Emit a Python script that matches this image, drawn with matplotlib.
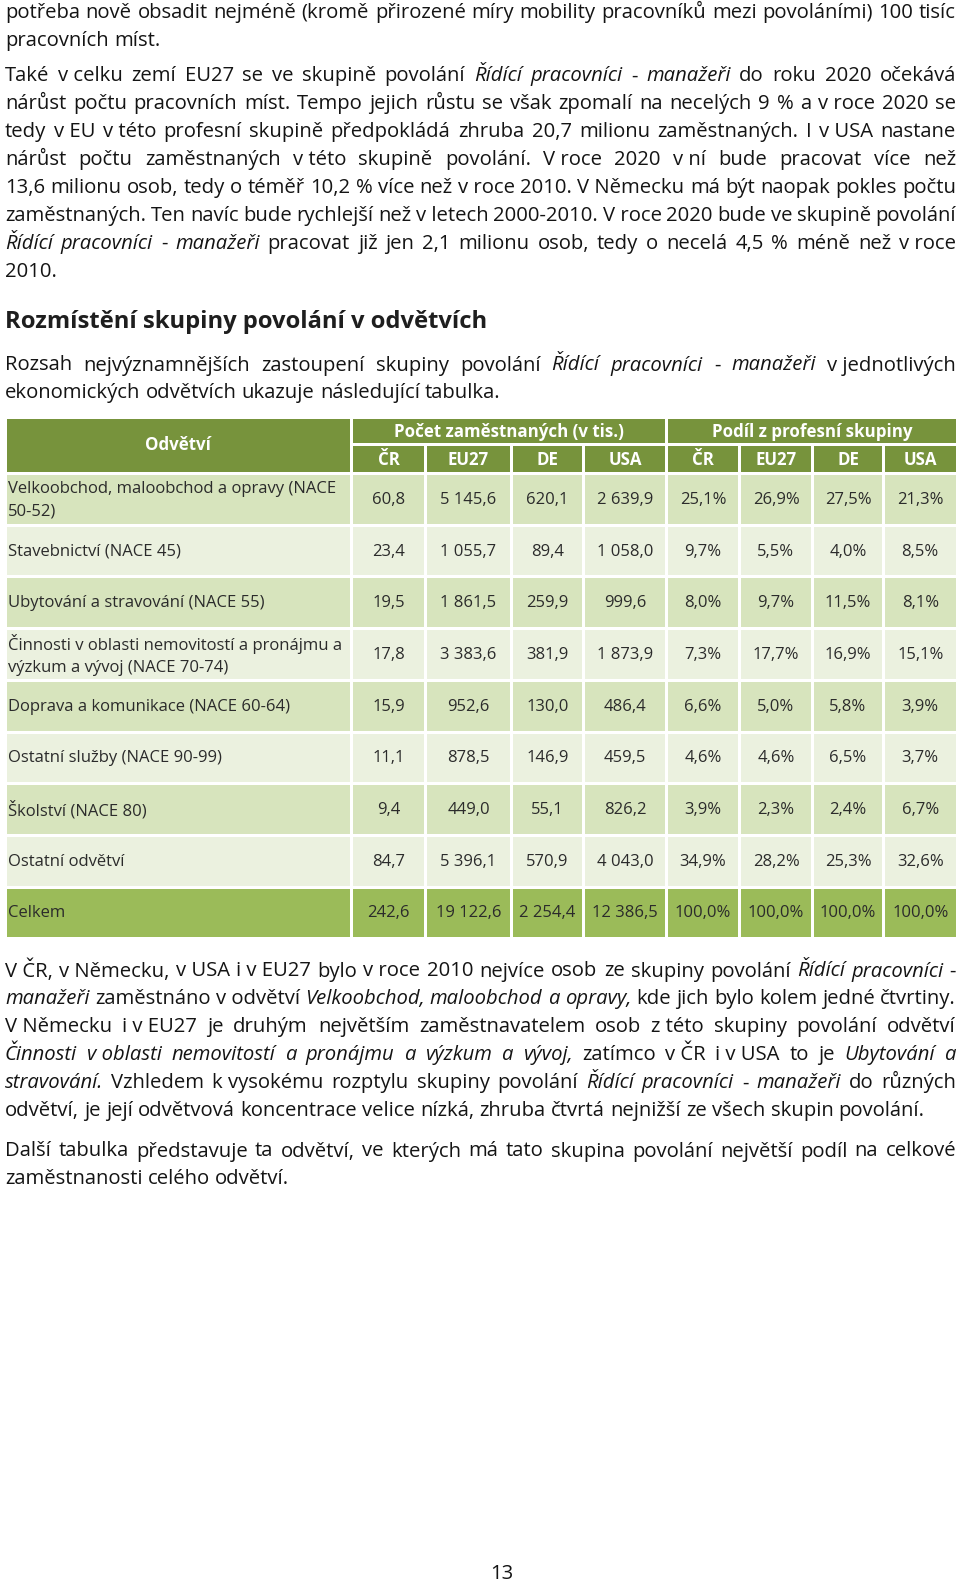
import matplotlib

matplotlib.use("Agg")

import matplotlib.pyplot as plt
from matplotlib.patches import Rectangle

W, H = 960, 1584
FONT = ["Open Sans", "DejaVu Sans"]
TEXT_COLOR = "#141414"
CELL_TEXT = "#2b2b2b"

# --- page text (lines as in the original layout; *...* = italic, ~ = no-break space)
para1 = [
    "potřeba nově obsadit nejméně (kromě přirozené míry mobility pracovníků mezi povoláními) 100 tisíc",
    "pracovních míst.",
]
para2 = [
    "Také v~celku zemí EU27 se ve skupině povolání *Řídící pracovníci* - *manažeři* do roku 2020 očekává",
    "nárůst počtu pracovních míst. Tempo jejich růstu se však zpomalí na necelých 9 % a v~roce 2020 se",
    "tedy v~EU v~této profesní skupině předpokládá zhruba 20,7 milionu zaměstnaných. I v~USA nastane",
    "nárůst počtu zaměstnaných v~této skupině povolání. V~roce 2020 v~ní bude pracovat více než",
    "13,6 milionu osob, tedy o téměř 10,2 % více než v~roce 2010. V~Německu má být naopak pokles počtu",
    "zaměstnaných. Ten navíc bude rychlejší než v~letech 2000-2010. V~roce 2020 bude ve skupině povolání",
    "*Řídící pracovníci* - *manažeři* pracovat již jen 2,1 milionu osob, tedy o necelá 4,5 % méně než v~roce",
    "2010.",
]
heading = "Rozmístění skupiny povolání v odvětvích"
para3 = [
    "Rozsah nejvýznamnějších zastoupení skupiny povolání *Řídící pracovníci* - *manažeři* v~jednotlivých",
    "ekonomických odvětvích ukazuje následující tabulka.",
]
para4 = [
    "V~ČR, v~Německu, v~USA i~v~EU27 bylo v~roce 2010 nejvíce osob ze skupiny povolání *Řídící pracovníci* -",
    "*manažeři* zaměstnáno v~odvětví *Velkoobchod, maloobchod a opravy*, kde jich bylo kolem jedné čtvrtiny.",
    "V~Německu i~v~EU27 je druhým největším zaměstnavatelem osob z~této skupiny povolání odvětví",
    "*Činnosti v~oblasti nemovitostí a pronájmu a výzkum a vývoj*, zatímco v~ČR i~v~USA to je *Ubytování a*",
    "*stravování*. Vzhledem k~vysokému rozptylu skupiny povolání *Řídící pracovníci* - *manažeři* do různých",
    "odvětví, je její odvětvová koncentrace velice nízká, zhruba čtvrtá nejnižší ze všech skupin povolání.",
]
para5 = [
    "Další tabulka představuje ta odvětví, ve kterých má tato skupina povolání největší podíl na celkové",
    "zaměstnanosti celého odvětví.",
]
page_number = "13"

# --- table data
col_group_labels = ["Počet zaměstnaných (v tis.)", "Podíl z profesní skupiny"]
country_labels = ["ČR", "EU27", "DE", "USA"]
sectors = [
    "Velkoobchod, maloobchod a opravy (NACE\n50-52)",
    "Stavebnictví (NACE 45)",
    "Ubytování a stravování (NACE 55)",
    "Činnosti v oblasti nemovitostí a pronájmu a\nvýzkum a vývoj (NACE 70-74)",
    "Doprava a komunikace (NACE 60-64)",
    "Ostatní služby (NACE 90-99)",
    "Školství (NACE 80)",
    "Ostatní odvětví",
    "Celkem",
]
emp_cr = [60.8, 23.4, 19.5, 17.8, 15.9, 11.1, 9.4, 84.7, 242.6]
emp_eu27 = [5145.6, 1055.7, 1861.5, 3383.6, 952.6, 878.5, 449.0, 5396.1, 19122.6]
emp_de = [620.1, 89.4, 259.9, 381.9, 130.0, 146.9, 55.1, 570.9, 2254.4]
emp_usa = [2639.9, 1058.0, 999.6, 1873.9, 486.4, 459.5, 826.2, 4043.0, 12386.5]
share_cr = [25.1, 9.7, 8.0, 7.3, 6.6, 4.6, 3.9, 34.9, 100.0]
share_eu27 = [26.9, 5.5, 9.7, 17.7, 5.0, 4.6, 2.3, 28.2, 100.0]
share_de = [27.5, 4.0, 11.5, 16.9, 5.8, 6.5, 2.4, 25.3, 100.0]
share_usa = [21.3, 8.5, 8.1, 15.1, 3.9, 3.7, 6.7, 32.6, 100.0]

HEAD_BG = "#77933C"
ODD_BG = "#D7E4BD"
EVEN_BG = "#EBF1DF"
TOTAL_BG = "#9BBB59"

fig = plt.figure(figsize=(W / 100, H / 100), dpi=100)
ax = fig.add_axes([0, 0, 1, 1])
ax.set_xlim(0, W)
ax.set_ylim(H, 0)
ax.axis("off")
renderer = fig.canvas.get_renderer()

LEFT, RIGHT = 5.0, 956.0
PITCH = 27.95


def measure(text, size, italic=False, weight="normal"):
    t = ax.text(0, 0, text, fontsize=size, style="italic" if italic else "normal",
                weight=weight, family=FONT)
    w = t.get_window_extent(renderer).width
    t.remove()
    return w


def advance(text, size, italic=False):
    return measure(text + "n", size, italic) - measure("n", size, italic)


def parse(line):
    words = []
    italic = False
    for raw in line.split(" "):
        runs = []
        for k, part in enumerate(raw.split("*")):
            if k > 0:
                italic = not italic
            if not part:
                continue
            part = part.replace("~", "\u00a0")
            if runs and runs[-1][1] and all(ch in ",.;:" for ch in part):
                # punctuation right after an italic word goes with it
                runs[-1] = (runs[-1][0] + part, True)
            else:
                runs.append((part, italic))
        words.append(runs)
    return words


def space_width(size):
    return measure("n n", size) - measure("nn", size)


def word_widths(words, size):
    return [[advance(t, size, it) for t, it in runs] for runs in words]


def natural_width(line, size):
    words = parse(line)
    total = sum(sum(ws) for ws in word_widths(words, size))
    return total + (len(words) - 1) * space_width(size)


def draw_line(y, line, size, justify):
    words = parse(line)
    widths = word_widths(words, size)
    total = sum(sum(ws) for ws in widths)
    space = space_width(size)
    n = len(words)
    if justify and n > 1:
        gap = (RIGHT - LEFT - total) / (n - 1)
        if gap < 0.55 * space:
            # too long even with tight spaces: shrink this line a little
            size *= (RIGHT - LEFT) / (total + 0.55 * space * (n - 1))
            widths = word_widths(words, size)
            total = sum(sum(ws) for ws in widths)
            gap = (RIGHT - LEFT - total) / (n - 1)
    else:
        gap = space
    x = LEFT
    for runs, ws in zip(words, widths):
        for (text, it), w in zip(runs, ws):
            ax.text(x, y, text, fontsize=size, style="italic" if it else "normal",
                    family=FONT, color=TEXT_COLOR, va="baseline", ha="left")
            x += w
        x += gap


def draw_para(first_baseline, lines, size):
    for i, line in enumerate(lines):
        draw_line(first_baseline + i * PITCH, line, size, justify=i < len(lines) - 1)


# body size calibrated on the first line, which is set with ordinary spacing
body = 13.0
body *= 0.99 * (RIGHT - LEFT) / natural_width(para1[0], body)

draw_para(17.6, para1, body)
draw_para(81.3, para2, body)

head_size = 17.0
head_size *= 482 / measure(heading, head_size, weight="bold")
ax.text(LEFT, 328.5, heading, fontsize=head_size, weight="bold", family=FONT,
        color="#1e1e1e", va="baseline", ha="left")

draw_para(370.5, para3, body)
draw_para(976.5, para4, body)
draw_para(1156.5, para5, body)

ax.text(502, 1579, page_number, fontsize=body, family=FONT, color=TEXT_COLOR,
        va="baseline", ha="center")

# --- table
col_edges = [5, 351.5, 425.5, 511.5, 583.5, 666.5, 739.5, 812.5, 883.5, 957]
GAP = 3.0
head_edges = [417.5, 444.5, 473.5]
row_top = 473.5
row_pitch = 51.7


def cell(x0, x1, y0, y1, color):
    ax.add_patch(Rectangle((x0 + GAP / 2, y0 + GAP / 2), x1 - x0 - GAP, y1 - y0 - GAP,
                           facecolor=color, edgecolor="none"))


def fmt_num(v):
    return f"{v:,.1f}".replace(",", "\u00a0").replace(".", ",")


def fmt_pct(v):
    return f"{v:.1f}".replace(".", ",") + "%"


cell_size = 12.0
widest = max(measure(s, cell_size) for lab in sectors for s in lab.split("\n"))
cell_size *= min(1.0, 336 / widest)
head_font = cell_size + 0.2

# header
cell(col_edges[0], col_edges[1], head_edges[0], head_edges[2], HEAD_BG)
ax.text((col_edges[0] + col_edges[1]) / 2, 445.5, "Odvětví", fontsize=head_font, weight="bold",
        family=FONT, color="white", ha="center", va="center")
for g, label in enumerate(col_group_labels):
    x0, x1 = col_edges[1 + 4 * g], col_edges[5 + 4 * g]
    cell(x0, x1, head_edges[0], head_edges[1], HEAD_BG)
    ax.text((x0 + x1) / 2, (head_edges[0] + head_edges[1]) / 2 + 1, label, fontsize=head_font,
            weight="bold", family=FONT, color="white", ha="center", va="center")
    for c, name in enumerate(country_labels):
        cx0, cx1 = col_edges[1 + 4 * g + c], col_edges[2 + 4 * g + c]
        cell(cx0, cx1, head_edges[1], head_edges[2], HEAD_BG)
        ax.text((cx0 + cx1) / 2, (head_edges[1] + head_edges[2]) / 2 + 1, name,
                fontsize=head_font, weight="bold", family=FONT, color="white",
                ha="center", va="center")

# body rows
columns = [
    [fmt_num(v) for v in emp_cr],
    [fmt_num(v) for v in emp_eu27],
    [fmt_num(v) for v in emp_de],
    [fmt_num(v) for v in emp_usa],
    [fmt_pct(v) for v in share_cr],
    [fmt_pct(v) for v in share_eu27],
    [fmt_pct(v) for v in share_de],
    [fmt_pct(v) for v in share_usa],
]
for r, label in enumerate(sectors):
    y0 = row_top + r * row_pitch
    y1 = y0 + row_pitch
    yc = (y0 + y1) / 2 + 0.5
    if r == len(sectors) - 1:
        bg = TOTAL_BG
    elif r % 2 == 0:
        bg = ODD_BG
    else:
        bg = EVEN_BG
    cell(col_edges[0], col_edges[1], y0, y1, bg)
    ax.text(8, yc, label, fontsize=cell_size, family=FONT, color=CELL_TEXT,
            ha="left", va="center", linespacing=1.55)
    for c, values in enumerate(columns):
        x0, x1 = col_edges[c + 1], col_edges[c + 2]
        cell(x0, x1, y0, y1, bg)
        ax.text((x0 + x1) / 2, yc, values[r], fontsize=cell_size, family=FONT,
                color=CELL_TEXT, ha="center", va="center")

fig.savefig("out.png", dpi=100)
plt.close(fig)
